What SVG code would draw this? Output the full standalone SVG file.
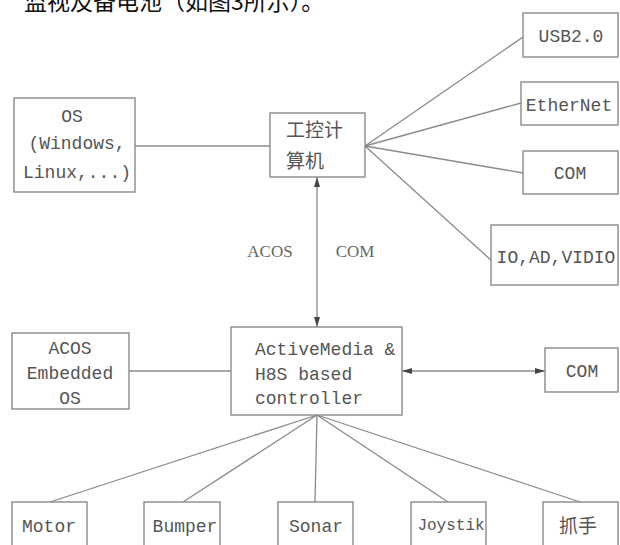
<svg xmlns="http://www.w3.org/2000/svg" width="620" height="545" viewBox="0 0 620 545">
<defs>
<marker id="ah" viewBox="0 0 10 6" refX="10" refY="3" markerWidth="10" markerHeight="6" markerUnits="userSpaceOnUse" orient="auto-start-reverse">
<path d="M0,0 L10,3 L0,6 Z" fill="#444"/>
</marker>
<style>
.box{fill:#fff;stroke:#8a8a8a;stroke-width:1.4}
.ln{stroke:#8a8a8a;stroke-width:1.3;fill:none}
.t{font-family:"Liberation Mono","DejaVu Sans Mono",monospace;font-size:18px;fill:#555}
.c{text-anchor:middle}
.cjk{font-family:"Noto Sans CJK SC","Noto Sans CJK JP",sans-serif;font-size:19px;fill:#555}
.lab{font-family:"Liberation Serif",serif;font-size:17px;fill:#666}
</style>
</defs>
<rect width="620" height="545" fill="#fff"/>
<text x="24" y="10" style="font-family:'Noto Sans CJK SC',sans-serif;font-size:23px;fill:#111">监视及备电池（如图3所示）。</text>

<g id="connectors">
<line class="ln" x1="135" y1="146" x2="270" y2="146"/>
<line class="ln" x1="365" y1="146" x2="523" y2="37"/>
<line class="ln" x1="365" y1="146" x2="521" y2="103"/>
<line class="ln" x1="365" y1="146" x2="523" y2="173"/>
<line class="ln" x1="365" y1="146" x2="492" y2="261"/>
<line class="ln" x1="317" y1="177" x2="317" y2="327" marker-start="url(#ah)" marker-end="url(#ah)"/>
<line class="ln" x1="129" y1="371" x2="231" y2="371"/>
<line class="ln" x1="402" y1="371" x2="545" y2="371" marker-start="url(#ah)" marker-end="url(#ah)"/>
<line class="ln" x1="317" y1="415" x2="50" y2="502"/>
<line class="ln" x1="317" y1="415" x2="183" y2="502"/>
<line class="ln" x1="317" y1="415" x2="315" y2="502"/>
<line class="ln" x1="317" y1="415" x2="448" y2="502"/>
<line class="ln" x1="317" y1="415" x2="580" y2="502"/>
<text class="lab c" x="270" y="257">ACOS</text>
<text class="lab c" x="355" y="257">COM</text>
</g>

<g id="os">
<rect class="box" x="14" y="98" width="121" height="94"/>
<text class="t c" x="72" y="122">OS</text>
<text class="t c" x="77" y="149">(Windows,</text>
<text class="t c" x="77" y="178">Linux,...)</text>
</g>

<g id="ipc">
<rect class="box" x="270" y="113" width="95" height="64"/>
<text class="cjk" x="286" y="137">工控计</text>
<text class="cjk" x="286" y="168">算机</text>
</g>

<g id="usb">
<rect class="box" x="523" y="13" width="95" height="44"/>
<text class="t c" x="571" y="42">USB2.0</text>
</g>
<g id="ethernet">
<rect class="box" x="521" y="82" width="97" height="43"/>
<text class="t c" x="569" y="111">EtherNet</text>
</g>
<g id="com1">
<rect class="box" x="523" y="151" width="95" height="43"/>
<text class="t c" x="570" y="179">COM</text>
</g>
<g id="io">
<rect class="box" x="491" y="225" width="127" height="60"/>
<text class="t c" x="556" y="263">IO,AD,VIDIO</text>
</g>

<g id="acos">
<rect class="box" x="12" y="333" width="117" height="76"/>
<text class="t c" x="70" y="354">ACOS</text>
<text class="t c" x="70" y="379">Embedded</text>
<text class="t c" x="70" y="404">OS</text>
</g>

<g id="controller">
<rect class="box" x="231" y="327" width="171" height="88"/>
<text class="t" x="255" y="355">ActiveMedia &amp;</text>
<text class="t" x="255" y="380">H8S based</text>
<text class="t" x="255" y="404">controller</text>
</g>

<g id="com2">
<rect class="box" x="545" y="348" width="73" height="44"/>
<text class="t c" x="582" y="377">COM</text>
</g>

<g id="motor">
<rect class="box" x="12" y="502" width="75" height="50"/>
<text class="t c" x="49" y="532">Motor</text>
</g>
<g id="bumper">
<rect class="box" x="144" y="502" width="76" height="50"/>
<text class="t c" x="185" y="532">Bumper</text>
</g>
<g id="sonar">
<rect class="box" x="278" y="502" width="75" height="50"/>
<text class="t c" x="316" y="532">Sonar</text>
</g>
<g id="joystik">
<rect class="box" x="411" y="502" width="75" height="50"/>
<text class="t c" x="451" y="530" style="font-size:16px">Joystik</text>
</g>
<g id="gripper">
<rect class="box" x="543" y="502" width="75" height="50"/>
<text class="cjk c" x="578" y="533">抓手</text>
</g>
</svg>
